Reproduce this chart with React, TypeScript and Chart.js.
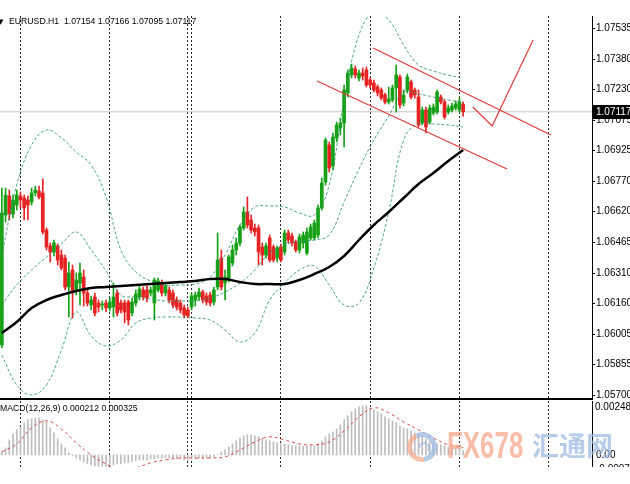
import { useEffect, useRef } from 'react';
import { Chart, registerables } from 'chart.js';

Chart.register(...registerables);

// ---------- DATA ----------
const symbolName = 'EURUSD.H1';

const candleOpen = [
  1.05951, 1.06601, 1.06696, 1.06606, 1.06651, 1.06696, 1.06686, 1.06676, 1.06666, 1.06711,
  1.06721, 1.06711, 1.06526, 1.06446, 1.06416, 1.06446, 1.06401, 1.06386, 1.06241, 1.06326,
  1.06226, 1.06261, 1.06291, 1.06211, 1.06151, 1.06191, 1.06161, 1.06151, 1.06161, 1.06136,
  1.06141, 1.06211, 1.06161, 1.06161, 1.06166, 1.06111, 1.06161, 1.06191, 1.06226, 1.06226,
  1.06211, 1.06161, 1.06226, 1.06261, 1.06211, 1.06226, 1.06211, 1.06176, 1.06161, 1.06136,
  1.06126, 1.06141, 1.06176, 1.06191, 1.06216, 1.06196, 1.06201, 1.06166, 1.06241, 1.06386,
  1.06261, 1.06286, 1.06361, 1.06426, 1.06461, 1.06536, 1.06616, 1.06576, 1.06536, 1.06536,
  1.06441, 1.06401, 1.06486, 1.06441, 1.06386, 1.06441, 1.06416, 1.06511, 1.06496, 1.06466,
  1.06426, 1.06461, 1.06411, 1.06486, 1.06486, 1.06501, 1.06636, 1.06766, 1.06951, 1.06846,
  1.06986, 1.07036, 1.07061, 1.07211, 1.07301, 1.07331, 1.07286, 1.07311, 1.07326, 1.07276,
  1.07261, 1.07241, 1.07226, 1.07201, 1.07166, 1.07176, 1.07236, 1.07291, 1.07161, 1.07226,
  1.07266, 1.07226, 1.07191, 1.07061, 1.07126, 1.07066, 1.07111, 1.07116, 1.07191, 1.07166,
  1.07116, 1.07126, 1.07136, 1.07126, 1.07154,
];
const candleHigh = [
  1.06736, 1.06736, 1.06726, 1.06701, 1.06726, 1.06716, 1.06701, 1.06696, 1.06736, 1.06746,
  1.06746, 1.06781, 1.06536, 1.06461, 1.06476, 1.06456, 1.06426, 1.06401, 1.06366, 1.06351,
  1.06311, 1.06361, 1.06326, 1.06236, 1.06196, 1.06211, 1.06176, 1.06171, 1.06176, 1.06186,
  1.06261, 1.06226, 1.06176, 1.06176, 1.06176, 1.06186, 1.06226, 1.06246, 1.06241, 1.06246,
  1.06241, 1.06286, 1.06286, 1.06276, 1.06261, 1.06241, 1.06226, 1.06191, 1.06176, 1.06151,
  1.06141, 1.06211, 1.06216, 1.06236, 1.06226, 1.06211, 1.06216, 1.06241, 1.06511, 1.06426,
  1.06326, 1.06401, 1.06451, 1.06486, 1.06551, 1.06641, 1.06691, 1.06601, 1.06556, 1.06551,
  1.06461, 1.06461, 1.06501, 1.06451, 1.06446, 1.06456, 1.06526, 1.06526, 1.06511, 1.06476,
  1.06506, 1.06516, 1.06536, 1.06556, 1.06576, 1.06651, 1.06786, 1.06986, 1.06966, 1.07011,
  1.07066, 1.07086, 1.07251, 1.07326, 1.07356, 1.07346, 1.07326, 1.07336, 1.07341, 1.07286,
  1.07276, 1.07251, 1.07236, 1.07211, 1.07241, 1.07251, 1.07351, 1.07301, 1.07226, 1.07306,
  1.07276, 1.07236, 1.07226, 1.07141, 1.07141, 1.07151, 1.07156, 1.07226, 1.07201, 1.07176,
  1.07151, 1.07161, 1.07171, 1.07186, 1.07166,
];
const candleLow = [
  1.05936, 1.06566, 1.06576, 1.06586, 1.06626, 1.06636, 1.06576, 1.06576, 1.06651, 1.06696,
  1.06681, 1.06506, 1.06426, 1.06366, 1.06396, 1.06351, 1.06326, 1.06226, 1.06091, 1.06086,
  1.06201, 1.06151, 1.06146, 1.06146, 1.06126, 1.06096, 1.06116, 1.06126, 1.06116, 1.06121,
  1.06091, 1.06096, 1.06111, 1.06061, 1.06051, 1.06096, 1.06146, 1.06176, 1.06176, 1.06166,
  1.06196, 1.06076, 1.06216, 1.06196, 1.06196, 1.06161, 1.06136, 1.06126, 1.06111, 1.06086,
  1.06086, 1.06126, 1.06146, 1.06176, 1.06161, 1.06151, 1.06146, 1.06151, 1.06226, 1.06226,
  1.06176, 1.06266, 1.06346, 1.06401, 1.06446, 1.06526, 1.06536, 1.06511, 1.06496, 1.06351,
  1.06351, 1.06386, 1.06366, 1.06366, 1.06366, 1.06366, 1.06401, 1.06461, 1.06446, 1.06416,
  1.06411, 1.06436, 1.06401, 1.06476, 1.06476, 1.06486, 1.06626, 1.06751, 1.06816, 1.06826,
  1.06966, 1.07001, 1.06941, 1.07191, 1.07286, 1.07286, 1.07271, 1.07276, 1.07241, 1.07236,
  1.07216, 1.07196, 1.07176, 1.07156, 1.07156, 1.07166, 1.07116, 1.07136, 1.07146, 1.07211,
  1.07181, 1.07186, 1.07041, 1.07051, 1.07011, 1.07056, 1.07101, 1.07106, 1.07156, 1.07081,
  1.07106, 1.07116, 1.07126, 1.07116, 1.07095,
];
const candleClose = [
  1.06611, 1.06701, 1.06606, 1.06676, 1.06701, 1.06676, 1.06636, 1.06651, 1.06711, 1.06726,
  1.06691, 1.06516, 1.06441, 1.06416, 1.06461, 1.06376, 1.06336, 1.06241, 1.06311, 1.06211,
  1.06276, 1.06311, 1.06211, 1.06161, 1.06176, 1.06111, 1.06141, 1.06151, 1.06136, 1.06166,
  1.06191, 1.06111, 1.06126, 1.06116, 1.06076, 1.06166, 1.06206, 1.06231, 1.06191, 1.06186,
  1.06226, 1.06276, 1.06271, 1.06211, 1.06246, 1.06176, 1.06151, 1.06141, 1.06126, 1.06101,
  1.06096, 1.06196, 1.06201, 1.06216, 1.06176, 1.06166, 1.06161, 1.06226, 1.06376, 1.06241,
  1.06291, 1.06391, 1.06426, 1.06461, 1.06541, 1.06616, 1.06551, 1.06526, 1.06516, 1.06416,
  1.06401, 1.06446, 1.06376, 1.06376, 1.06436, 1.06376, 1.06511, 1.06476, 1.06461, 1.06426,
  1.06491, 1.06501, 1.06516, 1.06541, 1.06561, 1.06636, 1.06761, 1.06976, 1.06836, 1.06991,
  1.07051, 1.07061, 1.07226, 1.07311, 1.07336, 1.07301, 1.07311, 1.07296, 1.07251, 1.07251,
  1.07226, 1.07211, 1.07186, 1.07166, 1.07181, 1.07236, 1.07301, 1.07151, 1.07201, 1.07291,
  1.07191, 1.07201, 1.07051, 1.07126, 1.07041, 1.07136, 1.07141, 1.07216, 1.07166, 1.07091,
  1.07136, 1.07146, 1.07156, 1.07166, 1.07117,
];

// indicator samples (every 4th bar)
const sampleIdx = [0, 4, 8, 12, 16, 20, 24, 28, 32, 36, 40, 44, 48, 52, 56, 60, 64, 68, 72, 76, 80, 84, 88, 92, 96, 100, 104, 108, 112, 116, 120, 124];
const bandUpper = [
  1.06401, 1.06751, 1.06951, 1.07026, 1.06986, 1.06916, 1.06851, 1.06691, 1.06426, 1.06316,
  1.06271, 1.06251, 1.06251, 1.06256, 1.06291, 1.06401, 1.06551, 1.06641, 1.06646, 1.06641,
  1.06611, 1.06601, 1.06751, 1.07176, 1.07501, 1.07616, 1.07576, 1.07451, 1.07351, 1.07321,
  1.07301, 1.07286,
];
const bandMiddle = [
  1.06151, 1.06251, 1.06326, 1.06391, 1.06456, 1.06516, 1.06426, 1.06321, 1.06201, 1.06191,
  1.06181, 1.06171, 1.06171, 1.06171, 1.06186, 1.06216, 1.06261, 1.06326, 1.06411, 1.06451,
  1.06471, 1.06476, 1.06501, 1.06666, 1.06831, 1.06976, 1.07096, 1.07216, 1.07206, 1.07191,
  1.07176, 1.07166,
];
const bandLower = [
  1.05901, 1.05751, 1.05701, 1.05751, 1.05926, 1.06116, 1.05996, 1.05946, 1.05976, 1.06061,
  1.06086, 1.06091, 1.06091, 1.06086, 1.06076, 1.06026, 1.05966, 1.06011, 1.06176, 1.06261,
  1.06326, 1.06346, 1.06251, 1.06151, 1.06161, 1.06336, 1.06616, 1.06976, 1.07061, 1.07056,
  1.07051, 1.07041,
];
const maLine = [
  1.06011, 1.06066, 1.06136, 1.06176, 1.06201, 1.06221, 1.06236, 1.06241, 1.06246, 1.06251,
  1.06256, 1.06261, 1.06266, 1.06271, 1.06281, 1.06281, 1.06266, 1.06256, 1.06256, 1.06256,
  1.06276, 1.06306, 1.06341, 1.06396, 1.06476, 1.06551, 1.06616, 1.06686, 1.06756, 1.06811,
  1.06871, 1.06926,
];

// hand-drawn lines (x in bar units)
const channelUpperX = [99.8, 147.6];
const channelUpperY = [1.07436, 1.07001];
const channelLowerX = [84.7, 135.8];
const channelLowerY = [1.07271, 1.06831];
const projectionX = [126.6, 131.8, 142.8];
const projectionY = [1.07141, 1.07046, 1.07476];

const priceTicks = [1.07535, 1.0738, 1.0723, 1.07075, 1.06925, 1.0677, 1.0662, 1.06465, 1.0631, 1.0616, 1.06005, 1.05855, 1.057];
const gridIdx = [5, 29, 50, 51, 75, 99, 123, 147];

const macdHist = [
  0.00014, 0.00032, 0.00068, 0.00096, 0.00114, 0.00127, 0.00146, 0.00159, 0.00164, 0.00168,
  0.00168, 0.00159, 0.0015, 0.00123, 0.001, 0.00073, 0.0005, 0.00032, 0.00009, -0.00005,
  -0.00014, -0.00023, -0.00032, -0.00041, -0.00046, -0.0005, -0.00052, -0.00052, -0.00051, -0.00046,
  -0.00046, -0.00041, -0.00041, -0.00036, -0.00036, -0.00032, -0.00027, -0.00023, -0.00023, -0.00023,
  -0.00018, -0.00018, -0.00014, -0.00014, -0.00014, -0.00014, -0.00014, -0.00018, -0.00018, -0.00023,
  -0.00023, -0.00018, -0.00018, -0.00014, -0.00014, -0.00014, -0.00014, -0.00009, 0.00001, 0.00014,
  0.00023, 0.00036, 0.0005, 0.00064, 0.00077, 0.00087, 0.00091, 0.00091, 0.00087, 0.00082,
  0.00077, 0.00068, 0.00064, 0.00059, 0.00055, 0.0005, 0.0005, 0.00046, 0.00041, 0.00041,
  0.00041, 0.00041, 0.00041, 0.00041, 0.00041, 0.0005, 0.00064, 0.00082, 0.00096, 0.00105,
  0.00118, 0.00137, 0.00159, 0.00178, 0.00196, 0.00209, 0.00218, 0.00223, 0.00223, 0.00214,
  0.00205, 0.00196, 0.00187, 0.00173, 0.00164, 0.00155, 0.00146, 0.00132, 0.00123, 0.00118,
  0.00109, 0.001, 0.00091, 0.00082, 0.00073, 0.00064, 0.00055, 0.0005, 0.00046, 0.00041,
  0.00036, 0.00032, 0.00027, 0.00023, 0.000212,
];
const macdSignal = [
  0.00014, 0.0005, 0.00123, 0.00155, 0.00118, 0.00055, 0.0, -0.00041, -0.00068, -0.00059,
  -0.00036, -0.00023, -0.00014, -0.00014, -0.00014, -0.00009, 0.00023, 0.00059, 0.00082, 0.00068,
  0.0005, 0.00046, 0.00059, 0.00109, 0.00173, 0.00214, 0.00191, 0.0015, 0.00114, 0.00077,
  0.00046, 0.000325,
];
const macdScaleMax = 0.002489;
const macdScaleMin = -0.000773;

// ---------- STYLE ----------
const GREEN = '#16a016';
const RED = '#e62222';
const BAND = 'rgba(45,150,110,0.85)';
const FONT = '"Liberation Sans", Arial, sans-serif';
const X_MIN = -0.5;
const X_MAX = -0.5 + 592 / 3.72;

export default function App() {
  const mainRef = useRef<HTMLCanvasElement>(null);
  const macdRef = useRef<HTMLCanvasElement>(null);

  useEffect(() => {
    document.body.style.margin = '0';
    const n = candleOpen.length;
    const bars = candleOpen.map((_, i) => i);
    const colors = bars.map((i) => (candleClose[i] >= candleOpen[i] ? GREEN : RED));
    const last = n - 1;

    const lineDs = (xs: number[], ys: number[], color: string, width: number, dash: number[], tension: number, order: number) => ({
      type: 'line' as const,
      data: xs.map((x, k) => ({ x, y: ys[k] })),
      borderColor: color,
      borderWidth: width,
      borderDash: dash,
      pointRadius: 0,
      tension,
      fill: false,
      order,
    });

    const gridX = (height: number, border: any) => ({
      type: 'linear' as const,
      min: X_MIN,
      max: X_MAX,
      offset: false,
      position: 'bottom' as const,
      ticks: { display: false },
      grid: { display: true, offset: false, color: '#2a2a2a', lineWidth: 1, drawTicks: false, drawOnChartArea: true },
      border,
      afterBuildTicks: (s: any) => {
        s.ticks = gridIdx.map((v) => ({ value: v }));
      },
      afterFit: (s: any) => {
        s.height = height;
        s.paddingLeft = 0;
        s.paddingRight = 0;
      },
    });

    const mainDecor = {
      id: 'mainDecor',
      afterDraw(chart: any) {
        const { ctx, chartArea, scales } = chart;
        ctx.save();
        ctx.textBaseline = 'middle';
        ctx.fillStyle = '#000';
        ctx.font = '7px "DejaVu Sans"';
        ctx.fillText('▼', -2, 22);
        ctx.font = `8.7px ${FONT}`;
        const hdr = `${symbolName}  ${candleOpen[last].toFixed(5)} ${candleHigh[last].toFixed(5)} ${candleLow[last].toFixed(5)} ${candleClose[last].toFixed(5)}`;
        ctx.fillText(hdr, 9, 22);
        const py = Math.round(scales.y.getPixelForValue(candleClose[last]));
        ctx.fillStyle = '#000';
        ctx.fillRect(chartArea.right + 1, py - 7, 40, 14);
        ctx.fillStyle = '#fff';
        ctx.font = `10px ${FONT}`;
        ctx.fillText(candleClose[last].toFixed(5), chartArea.right + 4, py + 0.5);
        ctx.restore();
      },
    };

    const main = new Chart(mainRef.current as HTMLCanvasElement, {
      type: 'bar',
      data: {
        datasets: [
          {
            type: 'bar',
            data: bars.map((i) => ({ x: i, y: [candleLow[i], candleHigh[i]] })) as any,
            backgroundColor: colors,
            barThickness: 1,
            grouped: false,
            borderWidth: 0,
            order: 6,
          },
          {
            type: 'bar',
            data: bars.map((i) => ({ x: i, y: [candleOpen[i], candleClose[i]] })) as any,
            backgroundColor: colors,
            barThickness: 3,
            minBarLength: 1,
            grouped: false,
            borderWidth: 0,
            order: 5,
          },
          lineDs([X_MIN, X_MAX], [candleClose[last], candleClose[last]], '#c4c4c4', 1, [], 0, 20) as any,
          lineDs(sampleIdx, bandUpper, BAND, 1, [3, 2], 0.4, 3) as any,
          lineDs(sampleIdx, bandMiddle, BAND, 1, [3, 2], 0.4, 3) as any,
          lineDs(sampleIdx, bandLower, BAND, 1, [3, 2], 0.4, 3) as any,
          lineDs(sampleIdx, maLine, '#000', 2.5, [], 0.4, 2) as any,
          lineDs(channelUpperX, channelUpperY, '#e03a3a', 1.2, [], 0, 1) as any,
          lineDs(channelLowerX, channelLowerY, '#e03a3a', 1.2, [], 0, 1) as any,
          lineDs(projectionX, projectionY, '#e03a3a', 1.2, [], 0, 1) as any,
        ],
      },
      options: {
        responsive: false,
        maintainAspectRatio: false,
        animation: false,
        devicePixelRatio: 1,
        events: [],
        layout: { padding: { top: 16, left: 0, right: 0, bottom: 0 } },
        plugins: { legend: { display: false }, tooltip: { enabled: false }, title: { display: false } },
        scales: {
          x: gridX(2, { display: true, color: '#000', width: 2, dash: [2, 2] }) as any,
          y: {
            type: 'linear',
            position: 'right',
            min: 1.05681,
            max: 1.07596,
            afterBuildTicks: (s: any) => {
              s.ticks = priceTicks.map((v) => ({ value: v }));
            },
            ticks: {
              callback: (v: any) => Number(v).toFixed(5),
              color: '#000',
              font: { family: FONT, size: 10 },
              padding: 1,
              autoSkip: false,
            },
            grid: { display: true, drawOnChartArea: false, drawTicks: true, tickLength: 3, color: '#000' },
            border: { display: true, color: '#000', width: 1 },
            afterFit: (s: any) => {
              s.width = 38;
              s.paddingTop = 0;
              s.paddingBottom = 0;
            },
          } as any,
        },
      },
      plugins: [mainDecor],
    });

    const macdDecor = {
      id: 'macdDecor',
      afterDraw(chart: any) {
        const { ctx, chartArea, scales } = chart;
        ctx.save();
        ctx.textBaseline = 'middle';
        ctx.fillStyle = '#000';
        ctx.font = `8.7px ${FONT}`;
        ctx.fillText(`MACD(12,26,9) ${macdHist[last].toFixed(6)} ${macdSignal[macdSignal.length - 1].toFixed(6)}`, 0, 8);
        ctx.font = `10px ${FONT}`;
        const ax = chartArea.right + 3;
        ctx.fillText(macdScaleMax.toFixed(6), ax, 6);
        ctx.fillText('0.00', ax + 1, scales.y.getPixelForValue(0));
        ctx.fillText(macdScaleMin.toFixed(6), ax + 1, 68);
        // watermark
        ctx.globalAlpha = 0.72;
        ctx.lineWidth = 5;
        ctx.strokeStyle = '#f4a98a';
        ctx.beginPath();
        ctx.arc(422, 46, 12.5, Math.PI * 0.45, Math.PI * 1.35);
        ctx.stroke();
        ctx.strokeStyle = '#98b8e0';
        ctx.beginPath();
        ctx.arc(422, 46, 12.5, Math.PI * 1.35, Math.PI * 2.45);
        ctx.stroke();
        ctx.lineWidth = 2;
        ctx.strokeStyle = '#98b8e0';
        ctx.beginPath();
        ctx.arc(424, 47, 5, Math.PI * 1.0, Math.PI * 2.2);
        ctx.stroke();
        ctx.save();
        ctx.translate(447, 57);
        ctx.scale(0.72, 1);
        ctx.textBaseline = 'alphabetic';
        ctx.font = `bold 36px ${FONT}`;
        ctx.fillStyle = '#f5a487';
        ctx.fillText('FX678', 0, 0);
        ctx.restore();
        ctx.font = 'bold 27px "Noto Sans CJK SC"';
        ctx.fillStyle = '#9bb9e0';
        ctx.textBaseline = 'middle';
        ctx.fillText('汇通网', 532, 45);
        ctx.restore();
      },
    };

    const macd = new Chart(macdRef.current as HTMLCanvasElement, {
      type: 'bar',
      data: {
        datasets: [
          {
            type: 'bar',
            data: bars.map((i) => ({ x: i, y: macdHist[i] })) as any,
            backgroundColor: '#bdbdbd',
            barThickness: 1,
            grouped: false,
            borderWidth: 0,
            order: 2,
          },
          lineDs(sampleIdx, macdSignal, '#e04848', 1, [3, 3], 0.4, 1) as any,
        ],
      },
      options: {
        responsive: false,
        maintainAspectRatio: false,
        animation: false,
        devicePixelRatio: 1,
        events: [],
        layout: { padding: 0 },
        plugins: { legend: { display: false }, tooltip: { enabled: false }, title: { display: false } },
        scales: {
          x: gridX(0, { display: false, dash: [2, 2] }) as any,
          y: {
            type: 'linear',
            position: 'right',
            min: -0.00055,
            max: 0.00245,
            ticks: { display: false },
            grid: { display: false },
            border: { display: true, color: '#000', width: 1 },
            afterFit: (s: any) => {
              s.width = 38;
              s.paddingTop = 0;
              s.paddingBottom = 0;
            },
          } as any,
        },
      },
      plugins: [macdDecor],
    });

    return () => {
      main.destroy();
      macd.destroy();
    };
  }, []);

  return (
    <div style={{ position: 'relative', width: 630, height: 484, background: '#fff', overflow: 'hidden' }}>
      <canvas ref={mainRef} width={630} height={401} style={{ position: 'absolute', left: 0, top: 0 }} />
      <canvas ref={macdRef} width={630} height={66} style={{ position: 'absolute', left: 0, top: 401 }} />
    </div>
  );
}
